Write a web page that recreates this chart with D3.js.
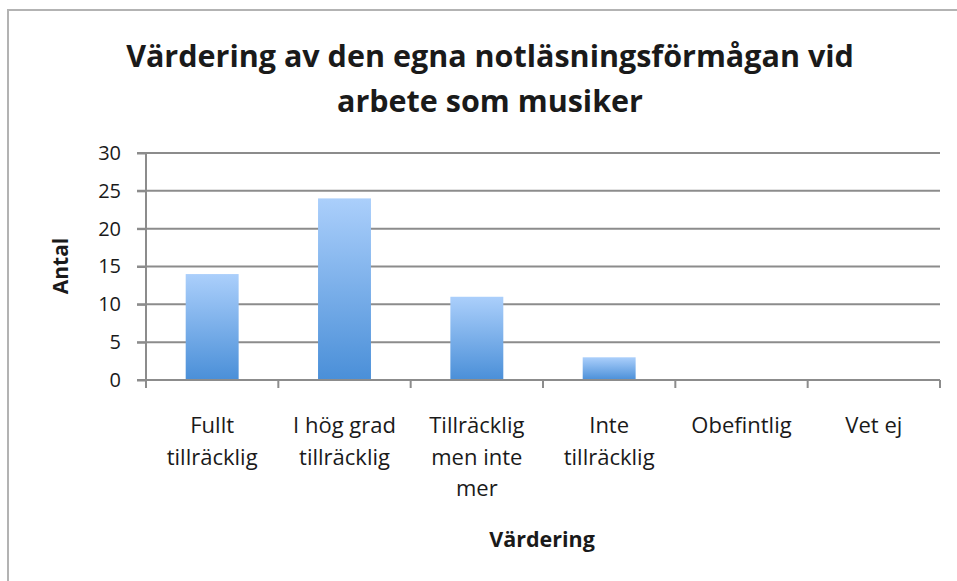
<!DOCTYPE html>
<meta charset="utf-8">
<style>
body { margin: 0; background: white; }
text { font-family: "Open Sans", sans-serif; fill: #1a1a1a; }
.grid line { stroke: #8c8c8c; stroke-width: 2px; }
.axis path, .axis line { stroke: #8c8c8c; stroke-width: 2px; }
</style>
<body>
<script src="https://d3js.org/d3.v7.min.js"></script>
<script>
// chart data
var categories = ["Fullt tillräcklig", "I hög grad tillräcklig", "Tillräcklig men inte mer", "Inte tillräcklig", "Obefintlig", "Vet ej"];
var labelLines = [["Fullt", "tillräcklig"], ["I hög grad", "tillräcklig"], ["Tillräcklig", "men inte", "mer"], ["Inte", "tillräcklig"], ["Obefintlig"], ["Vet ej"]];
var values = [14, 24, 11, 3, 0, 0];
var yTicks = [0, 5, 10, 15, 20, 25, 30];
var titleLines = ["Värdering av den egna notläsningsförmågan vid", "arbete som musiker"];

var width = 957, height = 581;
var plotLeft = 146, plotRight = 940, plotTop = 153, plotBottom = 380;

var svg = d3.select("body").append("svg")
    .attr("width", width)
    .attr("height", height);

// gradient for the bars
var grad = svg.append("defs").append("linearGradient")
    .attr("id", "barGrad")
    .attr("x1", 0).attr("y1", 0).attr("x2", 0).attr("y2", 1);
grad.append("stop").attr("offset", "0%").attr("stop-color", "#abcffb");
grad.append("stop").attr("offset", "100%").attr("stop-color", "#4a8fd8");

// outer frame (runs off the right and bottom)
svg.append("rect")
    .attr("x", 8).attr("y", 10)
    .attr("width", 1000).attr("height", 700)
    .attr("fill", "none")
    .attr("stroke", "#b3b3b3")
    .attr("stroke-width", 2);

var x = d3.scaleBand().domain(categories).range([plotLeft, plotRight]).paddingInner(0.6).paddingOuter(0.3);
var y = d3.scaleLinear().domain([0, 30]).range([plotBottom, plotTop]);

// gridlines
svg.append("g").attr("class", "grid")
    .selectAll("line")
    .data(yTicks.filter(function(d) { return d > 0; }))
    .enter().append("line")
    .attr("x1", plotLeft - 9).attr("x2", plotRight)
    .attr("y1", function(d) { return y(d); })
    .attr("y2", function(d) { return y(d); });

// y axis
var yAxis = svg.append("g").attr("class", "axis")
    .attr("transform", "translate(" + plotLeft + ",0)")
    .call(d3.axisLeft(y).tickValues(yTicks).tickSize(9).tickPadding(16).tickSizeOuter(0));
yAxis.select(".domain").attr("d", "M0," + y(30) + "V" + y(0));
yAxis.selectAll("text").style("font-size", "20px").attr("fill", "#1a1a1a");

// bars
svg.selectAll("rect.bar")
    .data(values)
    .enter().append("rect")
    .attr("class", "bar")
    .attr("x", function(d, i) { return x(categories[i]); })
    .attr("width", x.bandwidth())
    .attr("y", function(d) { return y(d); })
    .attr("height", function(d) { return y(0) - y(d); })
    .attr("fill", "url(#barGrad)");

// x axis with ticks between categories
var step = (plotRight - plotLeft) / categories.length;
var xAxis = svg.append("g").attr("class", "axis");
xAxis.append("line")
    .attr("x1", plotLeft - 9).attr("x2", plotRight)
    .attr("y1", y(0)).attr("y2", y(0));
xAxis.selectAll("line.tick")
    .data(d3.range(categories.length + 1))
    .enter().append("line")
    .attr("class", "tick")
    .attr("x1", function(i) { return plotLeft + i * step; })
    .attr("x2", function(i) { return plotLeft + i * step; })
    .attr("y1", y(0)).attr("y2", y(0) + 8);

// category labels
svg.selectAll("text.xlab")
    .data(labelLines)
    .enter().append("text")
    .attr("class", "xlab")
    .attr("text-anchor", "middle")
    .style("font-size", "22px")
    .each(function(lines, i) {
      var cx = x(categories[i]) + x.bandwidth() / 2;
      d3.select(this).selectAll("tspan")
        .data(lines)
        .enter().append("tspan")
        .attr("x", cx)
        .attr("y", function(d, j) { return 433 + j * 31.5; })
        .text(function(d) { return d; });
    });

// title
svg.selectAll("text.title")
    .data(titleLines)
    .enter().append("text")
    .attr("class", "title")
    .attr("text-anchor", "middle")
    .attr("x", 490)
    .attr("y", function(d, i) { return 67 + i * 45; })
    .style("font-size", "30.5px")
    .style("font-weight", "bold")
    .text(function(d) { return d; });

// axis titles
svg.append("text")
    .attr("text-anchor", "middle")
    .attr("transform", "translate(68,266) rotate(-90)")
    .style("font-size", "21px")
    .style("font-weight", "bold")
    .text("Antal");

svg.append("text")
    .attr("text-anchor", "middle")
    .attr("x", 542).attr("y", 547)
    .style("font-size", "21.5px")
    .style("font-weight", "bold")
    .text("Värdering");
</script>
</body>
